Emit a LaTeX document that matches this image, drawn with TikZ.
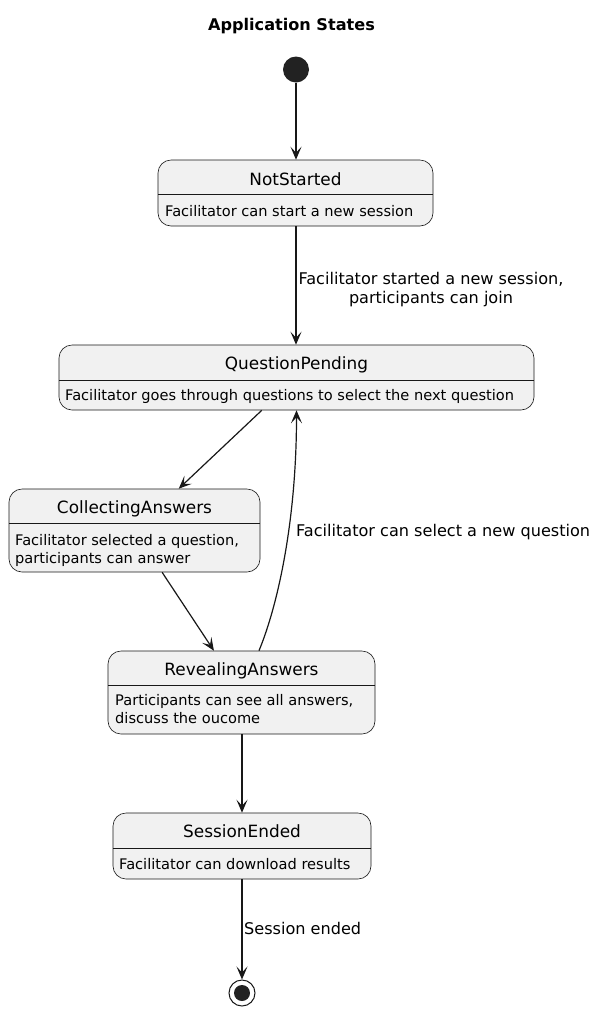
\documentclass[tikz,border=0pt]{standalone}
\usepackage{fontspec}
\setmainfont{DejaVu Sans}
\usetikzlibrary{arrows.meta,calc}
\definecolor{boxfill}{HTML}{F1F1F1}
\definecolor{boxline}{HTML}{181818}
\definecolor{dotc}{HTML}{222222}
\begin{document}
\begin{tikzpicture}[x=1pt,y=-1pt,
  statebox/.style={draw=boxline, fill=boxfill, line width=0.6pt, rounded corners=13pt, inner sep=0pt},
  sname/.style={font=\fontsize{16.9}{20}\selectfont, anchor=base, inner sep=0pt},
  sdesc/.style={font=\fontsize{14.6}{17.3}\selectfont, align=left, inner sep=0pt},
  elabel/.style={font=\fontsize{16.1}{19}\selectfont, inner sep=0pt},
  sepline/.style={draw=boxline, line width=0.6pt},
  trans/.style={draw=boxline, line width=1.2pt, -{Stealth[length=13pt,width=11pt,inset=6pt]}}]
\useasboundingbox (0,0) rectangle (600,1013);
% title
\node[font=\bfseries\fontsize{16.1}{19}\selectfont, anchor=base, inner sep=0pt] (title) at (291.5,30) {Application States};
% start
\node[circle, fill=dotc, minimum size=26pt, inner sep=0pt] (start) at (296,69.5) {};
% NotStarted
\node[statebox, minimum width=275pt, minimum height=66pt] (ns) at (295.5,193) {};
\draw[sepline] (158,194) -- (433,194);
\node[sname] (nsT) at (295.5,185) {NotStarted};
\node[sdesc, anchor=base west] (nsD) at (165,216.5) {Facilitator can start a new session};
% QuestionPending
\node[statebox, minimum width=475pt, minimum height=65pt] (qp) at (296.5,377.5) {};
\draw[sepline] (59,380) -- (534,380);
\node[sname] (qpT) at (296.5,369.3) {QuestionPending};
\node[sdesc, anchor=base west] (qpD) at (65,400.7) {Facilitator goes through questions to select the next question};
% CollectingAnswers
\node[statebox, minimum width=251pt, minimum height=83pt] (ca) at (134.5,530.5) {};
\draw[sepline] (9,523) -- (260,523);
\node[sname] (caT) at (134.5,513.3) {CollectingAnswers};
\node[sdesc, anchor=north west] (caD) at (15,534.6) {Facilitator selected a question,\\participants can answer};
% RevealingAnswers
\node[statebox, minimum width=267pt, minimum height=83pt] (ra) at (241.5,692.5) {};
\draw[sepline] (108,685) -- (375,685);
\node[sname] (raT) at (241.5,675.7) {RevealingAnswers};
\node[sdesc, anchor=north west] (raD) at (115,694.6) {Participants can see all answers,\\discuss the oucome};
% SessionEnded
\node[statebox, minimum width=258pt, minimum height=66pt] (se) at (242,846) {};
\draw[sepline] (113,848) -- (371,848);
\node[sname] (seT) at (242,837.5) {SessionEnded};
\node[sdesc, anchor=base west] (seD) at (119,869.5) {Facilitator can download results};
% end
\node[circle, draw=boxline, line width=1pt, minimum size=26pt, inner sep=0pt] (end) at (242,993) {};
\node[circle, fill=dotc, minimum size=16pt, inner sep=0pt] (endin) at (end) {};
% transitions
\draw[trans] (start) -- (start |- ns.north);
\draw[trans] ([xshift=0.5pt]ns.south) -- ([xshift=-0.5pt]qp.north);
\node[elabel, align=center] (l1) at (431,289.4) {Facilitator started a new session,\\participants can join};
\draw[trans] (qp) -- (ca);
\draw[trans] (ca) -- (ra);
\draw[trans] ([xshift=17.5pt]ra.north) .. controls +(19,-46) and +(0,110) .. (qp.south);
\node[elabel, anchor=base west] (l2) at (296,536.5) {Facilitator can select a new question};
\draw[trans] (ra.south -| se.north) -- (se.north);
\draw[trans] (se) -- (end);
\node[elabel, anchor=base west] (l3) at (244,934.5) {Session ended};
\end{tikzpicture}
\end{document}
